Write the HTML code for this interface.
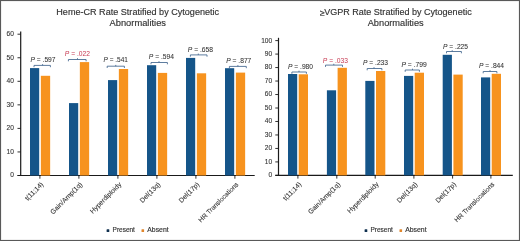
<!DOCTYPE html>
<html><head><meta charset="utf-8"><style>
html,body{margin:0;padding:0;background:#fff;}
body{width:520px;height:241px;overflow:hidden;font-family:"Liberation Sans", sans-serif;}
svg{display:block;will-change:transform;}
</style></head><body>
<svg width="520" height="241" viewBox="0 0 520 241" font-family='"Liberation Sans", sans-serif'>
<rect x="0" y="0" width="520" height="241" fill="#fff"/>
<rect x="1" y="1" width="518" height="239" fill="none" stroke="#d0d0d0" stroke-width="0.6"/>
<rect x="0.5" y="0.5" width="519" height="240" fill="none" stroke="#595959" stroke-width="1"/>
<text x="56.30" y="14.75" font-size="9" fill="#333333" stroke="#333333" stroke-width="0.15" textLength="162.80" lengthAdjust="spacingAndGlyphs">Heme-CR Rate Stratified by Cytogenetic</text>
<text x="109.50" y="25.8" font-size="9" fill="#333333" stroke="#333333" stroke-width="0.15" textLength="56.50" lengthAdjust="spacingAndGlyphs">Abnormalities</text>
<text x="320.0" y="15.9" font-size="8.8" fill="#333333" stroke="#333333" stroke-width="0.15">≥</text>
<text x="324.20" y="14.75" font-size="9" fill="#333333" stroke="#333333" stroke-width="0.15" textLength="147.50" lengthAdjust="spacingAndGlyphs">VGPR Rate Stratified by Cytogenetic</text>
<text x="367.70" y="25.8" font-size="9" fill="#333333" stroke="#333333" stroke-width="0.15" textLength="56.00" lengthAdjust="spacingAndGlyphs">Abnormalities</text>
<line x1="20.7" y1="31.40" x2="20.7" y2="176.10" stroke="#1a1a1a" stroke-width="1.2"/>
<line x1="17.50" y1="175.5" x2="254.7" y2="175.5" stroke="#1a1a1a" stroke-width="1.2"/>
<line x1="17.50" y1="175.50" x2="20.7" y2="175.50" stroke="#1a1a1a" stroke-width="0.9"/>
<text x="13.9" y="177.40" text-anchor="end" font-size="6.6" fill="#333333" stroke="#333333" stroke-width="0.1">0</text>
<line x1="17.50" y1="151.95" x2="20.7" y2="151.95" stroke="#1a1a1a" stroke-width="0.9"/>
<text x="13.9" y="153.85" text-anchor="end" font-size="6.6" fill="#333333" stroke="#333333" stroke-width="0.1">10</text>
<line x1="17.50" y1="128.40" x2="20.7" y2="128.40" stroke="#1a1a1a" stroke-width="0.9"/>
<text x="13.9" y="130.30" text-anchor="end" font-size="6.6" fill="#333333" stroke="#333333" stroke-width="0.1">20</text>
<line x1="17.50" y1="104.85" x2="20.7" y2="104.85" stroke="#1a1a1a" stroke-width="0.9"/>
<text x="13.9" y="106.75" text-anchor="end" font-size="6.6" fill="#333333" stroke="#333333" stroke-width="0.1">30</text>
<line x1="17.50" y1="81.30" x2="20.7" y2="81.30" stroke="#1a1a1a" stroke-width="0.9"/>
<text x="13.9" y="83.20" text-anchor="end" font-size="6.6" fill="#333333" stroke="#333333" stroke-width="0.1">40</text>
<line x1="17.50" y1="57.75" x2="20.7" y2="57.75" stroke="#1a1a1a" stroke-width="0.9"/>
<text x="13.9" y="59.65" text-anchor="end" font-size="6.6" fill="#333333" stroke="#333333" stroke-width="0.1">50</text>
<line x1="17.50" y1="34.20" x2="20.7" y2="34.20" stroke="#1a1a1a" stroke-width="0.9"/>
<text x="13.9" y="36.10" text-anchor="end" font-size="6.6" fill="#333333" stroke="#333333" stroke-width="0.1">60</text>
<rect x="30.00" y="68.10" width="9.2" height="107.40" fill="#155589"/>
<rect x="40.85" y="75.80" width="9.3" height="99.70" fill="#f7931e"/>
<line x1="39.90" y1="175.5" x2="39.90" y2="178.70" stroke="#1a1a1a" stroke-width="0.9"/>
<path d="M34 67.2 L34 65.4 L50.4 65.4 L50.4 67.2 M42.6 65.4 L42.6 64.10000000000001" fill="none" stroke="#41658e" stroke-width="0.85" stroke-linejoin="round"/>
<text x="30.50" y="61.5" font-size="6.3" fill="#333333" stroke="#333333" stroke-width="0.06" textLength="25.00" lengthAdjust="spacingAndGlyphs"><tspan font-style="italic">P</tspan> = .597</text>
<text x="43.90" y="184.80" text-anchor="end" font-size="6.8" fill="#333333" stroke="#333333" stroke-width="0.08" transform="rotate(-45 43.90 184.80)">t(11;14)</text>
<rect x="69.00" y="103.10" width="9.2" height="72.40" fill="#155589"/>
<rect x="79.85" y="62.10" width="9.3" height="113.40" fill="#f7931e"/>
<line x1="78.90" y1="175.5" x2="78.90" y2="178.70" stroke="#1a1a1a" stroke-width="0.9"/>
<path d="M68.4 61.3 L68.4 59.5 L86.1 59.5 L86.1 61.3 M77.5 59.5 L77.5 58.2" fill="none" stroke="#41658e" stroke-width="0.85" stroke-linejoin="round"/>
<text x="64.80" y="56.1" font-size="6.3" fill="#c73a52" stroke="#c73a52" stroke-width="0.0" textLength="25.20" lengthAdjust="spacingAndGlyphs"><tspan font-style="italic">P</tspan> = .022</text>
<text x="82.90" y="184.80" text-anchor="end" font-size="6.8" fill="#333333" stroke="#333333" stroke-width="0.08" transform="rotate(-45 82.90 184.80)">Gain/Amp(1q)</text>
<rect x="108.00" y="80.10" width="9.2" height="95.40" fill="#155589"/>
<rect x="118.85" y="69.00" width="9.3" height="106.50" fill="#f7931e"/>
<line x1="117.90" y1="175.5" x2="117.90" y2="178.70" stroke="#1a1a1a" stroke-width="0.9"/>
<path d="M107.2 68.0 L107.2 66.2 L124.4 66.2 L124.4 68.0 M115.75 66.2 L115.75 64.9" fill="none" stroke="#41658e" stroke-width="0.85" stroke-linejoin="round"/>
<text x="103.60" y="62.0" font-size="6.3" fill="#333333" stroke="#333333" stroke-width="0.06" textLength="24.30" lengthAdjust="spacingAndGlyphs"><tspan font-style="italic">P</tspan> = .541</text>
<text x="121.90" y="184.80" text-anchor="end" font-size="6.8" fill="#333333" stroke="#333333" stroke-width="0.08" transform="rotate(-45 121.90 184.80)">Hyperdiploidy</text>
<rect x="147.00" y="65.20" width="9.2" height="110.30" fill="#155589"/>
<rect x="157.85" y="72.90" width="9.3" height="102.60" fill="#f7931e"/>
<line x1="156.90" y1="175.5" x2="156.90" y2="178.70" stroke="#1a1a1a" stroke-width="0.9"/>
<path d="M151 64.3 L151 62.5 L167.4 62.5 L167.4 64.3 M159 62.5 L159 61.2" fill="none" stroke="#41658e" stroke-width="0.85" stroke-linejoin="round"/>
<text x="148.80" y="59.3" font-size="6.3" fill="#333333" stroke="#333333" stroke-width="0.06" textLength="25.20" lengthAdjust="spacingAndGlyphs"><tspan font-style="italic">P</tspan> = .594</text>
<text x="160.90" y="184.80" text-anchor="end" font-size="6.8" fill="#333333" stroke="#333333" stroke-width="0.08" transform="rotate(-45 160.90 184.80)">Del(13q)</text>
<rect x="186.00" y="57.90" width="9.2" height="117.60" fill="#155589"/>
<rect x="196.85" y="73.30" width="9.3" height="102.20" fill="#f7931e"/>
<line x1="195.90" y1="175.5" x2="195.90" y2="178.70" stroke="#1a1a1a" stroke-width="0.9"/>
<path d="M190.4 56.699999999999996 L190.4 54.9 L207 54.9 L207 56.699999999999996 M198.3 54.9 L198.3 53.6" fill="none" stroke="#41658e" stroke-width="0.85" stroke-linejoin="round"/>
<text x="187.80" y="51.5" font-size="6.3" fill="#333333" stroke="#333333" stroke-width="0.06" textLength="25.20" lengthAdjust="spacingAndGlyphs"><tspan font-style="italic">P</tspan> = .658</text>
<text x="199.90" y="184.80" text-anchor="end" font-size="6.8" fill="#333333" stroke="#333333" stroke-width="0.08" transform="rotate(-45 199.90 184.80)">Del(17p)</text>
<rect x="225.00" y="68.20" width="9.2" height="107.30" fill="#155589"/>
<rect x="235.85" y="72.60" width="9.3" height="102.90" fill="#f7931e"/>
<line x1="234.90" y1="175.5" x2="234.90" y2="178.70" stroke="#1a1a1a" stroke-width="0.9"/>
<path d="M229.4 68.2 L229.4 66.4 L246.3 66.4 L246.3 68.2 M237.9 66.4 L237.9 65.10000000000001" fill="none" stroke="#41658e" stroke-width="0.85" stroke-linejoin="round"/>
<text x="226.30" y="62.8" font-size="6.3" fill="#333333" stroke="#333333" stroke-width="0.06" textLength="25.00" lengthAdjust="spacingAndGlyphs"><tspan font-style="italic">P</tspan> = .877</text>
<text x="238.90" y="184.80" text-anchor="end" font-size="6.55" fill="#333333" stroke="#333333" stroke-width="0.08" transform="rotate(-45 238.90 184.80)">HR Translocations</text>
<line x1="278.5" y1="37.80" x2="278.5" y2="176.00" stroke="#1a1a1a" stroke-width="1.2"/>
<line x1="275.30" y1="175.4" x2="512.8" y2="175.4" stroke="#1a1a1a" stroke-width="1.2"/>
<line x1="275.30" y1="175.40" x2="278.5" y2="175.40" stroke="#1a1a1a" stroke-width="0.9"/>
<text x="272.2" y="177.30" text-anchor="end" font-size="6.6" fill="#333333" stroke="#333333" stroke-width="0.1">0</text>
<line x1="275.30" y1="161.92" x2="278.5" y2="161.92" stroke="#1a1a1a" stroke-width="0.9"/>
<text x="272.2" y="163.82" text-anchor="end" font-size="6.6" fill="#333333" stroke="#333333" stroke-width="0.1">10</text>
<line x1="275.30" y1="148.44" x2="278.5" y2="148.44" stroke="#1a1a1a" stroke-width="0.9"/>
<text x="272.2" y="150.34" text-anchor="end" font-size="6.6" fill="#333333" stroke="#333333" stroke-width="0.1">20</text>
<line x1="275.30" y1="134.96" x2="278.5" y2="134.96" stroke="#1a1a1a" stroke-width="0.9"/>
<text x="272.2" y="136.86" text-anchor="end" font-size="6.6" fill="#333333" stroke="#333333" stroke-width="0.1">30</text>
<line x1="275.30" y1="121.48" x2="278.5" y2="121.48" stroke="#1a1a1a" stroke-width="0.9"/>
<text x="272.2" y="123.38" text-anchor="end" font-size="6.6" fill="#333333" stroke="#333333" stroke-width="0.1">40</text>
<line x1="275.30" y1="108.00" x2="278.5" y2="108.00" stroke="#1a1a1a" stroke-width="0.9"/>
<text x="272.2" y="109.90" text-anchor="end" font-size="6.6" fill="#333333" stroke="#333333" stroke-width="0.1">50</text>
<line x1="275.30" y1="94.52" x2="278.5" y2="94.52" stroke="#1a1a1a" stroke-width="0.9"/>
<text x="272.2" y="96.42" text-anchor="end" font-size="6.6" fill="#333333" stroke="#333333" stroke-width="0.1">60</text>
<line x1="275.30" y1="81.04" x2="278.5" y2="81.04" stroke="#1a1a1a" stroke-width="0.9"/>
<text x="272.2" y="82.94" text-anchor="end" font-size="6.6" fill="#333333" stroke="#333333" stroke-width="0.1">70</text>
<line x1="275.30" y1="67.56" x2="278.5" y2="67.56" stroke="#1a1a1a" stroke-width="0.9"/>
<text x="272.2" y="69.46" text-anchor="end" font-size="6.6" fill="#333333" stroke="#333333" stroke-width="0.1">80</text>
<line x1="275.30" y1="54.08" x2="278.5" y2="54.08" stroke="#1a1a1a" stroke-width="0.9"/>
<text x="272.2" y="55.98" text-anchor="end" font-size="6.6" fill="#333333" stroke="#333333" stroke-width="0.1">90</text>
<line x1="275.30" y1="40.60" x2="278.5" y2="40.60" stroke="#1a1a1a" stroke-width="0.9"/>
<text x="272.2" y="42.50" text-anchor="end" font-size="6.6" fill="#333333" stroke="#333333" stroke-width="0.1">100</text>
<rect x="288.00" y="74.00" width="9.2" height="101.40" fill="#155589"/>
<rect x="298.70" y="74.30" width="9.3" height="101.10" fill="#f7931e"/>
<line x1="297.90" y1="175.4" x2="297.90" y2="178.60" stroke="#1a1a1a" stroke-width="0.9"/>
<path d="M291.9 73.8 L291.9 72 L306.4 72 L306.4 73.8 M299 72 L299 70.7" fill="none" stroke="#41658e" stroke-width="0.85" stroke-linejoin="round"/>
<text x="288.00" y="69.1" font-size="6.3" fill="#333333" stroke="#333333" stroke-width="0.06" textLength="25.00" lengthAdjust="spacingAndGlyphs"><tspan font-style="italic">P</tspan> = .980</text>
<text x="301.90" y="184.70" text-anchor="end" font-size="6.8" fill="#333333" stroke="#333333" stroke-width="0.08" transform="rotate(-45 301.90 184.70)">t(11;14)</text>
<rect x="326.90" y="90.30" width="9.2" height="85.10" fill="#155589"/>
<rect x="337.60" y="67.80" width="9.3" height="107.60" fill="#f7931e"/>
<line x1="336.80" y1="175.4" x2="336.80" y2="178.60" stroke="#1a1a1a" stroke-width="0.9"/>
<path d="M325.5 66.89999999999999 L325.5 65.1 L342.5 65.1 L342.5 66.89999999999999 M333.8 65.1 L333.8 63.8" fill="none" stroke="#41658e" stroke-width="0.85" stroke-linejoin="round"/>
<text x="322.80" y="62.6" font-size="6.3" fill="#c73a52" stroke="#c73a52" stroke-width="0.0" textLength="25.20" lengthAdjust="spacingAndGlyphs"><tspan font-style="italic">P</tspan> = .033</text>
<text x="340.80" y="184.70" text-anchor="end" font-size="6.8" fill="#333333" stroke="#333333" stroke-width="0.08" transform="rotate(-45 340.80 184.70)">Gain/Amp(1q)</text>
<rect x="365.30" y="80.90" width="9.2" height="94.50" fill="#155589"/>
<rect x="376.00" y="71.00" width="9.3" height="104.40" fill="#f7931e"/>
<line x1="375.20" y1="175.4" x2="375.20" y2="178.60" stroke="#1a1a1a" stroke-width="0.9"/>
<path d="M367.2 70.3 L367.2 68.5 L381.9 68.5 L381.9 70.3 M374 68.5 L374 67.2" fill="none" stroke="#41658e" stroke-width="0.85" stroke-linejoin="round"/>
<text x="363.00" y="64.8" font-size="6.3" fill="#333333" stroke="#333333" stroke-width="0.06" textLength="25.00" lengthAdjust="spacingAndGlyphs"><tspan font-style="italic">P</tspan> = .233</text>
<text x="379.20" y="184.70" text-anchor="end" font-size="6.8" fill="#333333" stroke="#333333" stroke-width="0.08" transform="rotate(-45 379.20 184.70)">Hyperdiploidy</text>
<rect x="404.00" y="75.90" width="9.2" height="99.50" fill="#155589"/>
<rect x="414.70" y="72.70" width="9.3" height="102.70" fill="#f7931e"/>
<line x1="413.90" y1="175.4" x2="413.90" y2="178.60" stroke="#1a1a1a" stroke-width="0.9"/>
<path d="M405.2 71.8 L405.2 70 L419.4 70 L419.4 71.8 M412.5 70 L412.5 68.7" fill="none" stroke="#41658e" stroke-width="0.85" stroke-linejoin="round"/>
<text x="401.50" y="67.1" font-size="6.3" fill="#333333" stroke="#333333" stroke-width="0.06" textLength="25.30" lengthAdjust="spacingAndGlyphs"><tspan font-style="italic">P</tspan> = .799</text>
<text x="417.90" y="184.70" text-anchor="end" font-size="6.8" fill="#333333" stroke="#333333" stroke-width="0.08" transform="rotate(-45 417.90 184.70)">Del(13q)</text>
<rect x="442.70" y="54.80" width="9.2" height="120.60" fill="#155589"/>
<rect x="453.40" y="74.60" width="9.3" height="100.80" fill="#f7931e"/>
<line x1="452.60" y1="175.4" x2="452.60" y2="178.60" stroke="#1a1a1a" stroke-width="0.9"/>
<path d="M446.5 53.3 L446.5 51.5 L461.4 51.5 L461.4 53.3 M452.2 51.5 L452.2 50.2" fill="none" stroke="#41658e" stroke-width="0.85" stroke-linejoin="round"/>
<text x="443.00" y="48.5" font-size="6.3" fill="#333333" stroke="#333333" stroke-width="0.06" textLength="25.00" lengthAdjust="spacingAndGlyphs"><tspan font-style="italic">P</tspan> = .225</text>
<text x="456.60" y="184.70" text-anchor="end" font-size="6.8" fill="#333333" stroke="#333333" stroke-width="0.08" transform="rotate(-45 456.60 184.70)">Del(17p)</text>
<rect x="481.00" y="77.40" width="9.2" height="98.00" fill="#155589"/>
<rect x="491.70" y="73.80" width="9.3" height="101.60" fill="#f7931e"/>
<line x1="490.90" y1="175.4" x2="490.90" y2="178.60" stroke="#1a1a1a" stroke-width="0.9"/>
<path d="M483.2 73.3 L483.2 71.5 L496.9 71.5 L496.9 73.3 M490 71.5 L490 70.2" fill="none" stroke="#41658e" stroke-width="0.85" stroke-linejoin="round"/>
<text x="479.00" y="67.8" font-size="6.3" fill="#333333" stroke="#333333" stroke-width="0.06" textLength="25.00" lengthAdjust="spacingAndGlyphs"><tspan font-style="italic">P</tspan> = .844</text>
<text x="494.90" y="184.70" text-anchor="end" font-size="6.55" fill="#333333" stroke="#333333" stroke-width="0.08" transform="rotate(-45 494.90 184.70)">HR Translocations</text>
<rect x="106.60000000000001" y="229.2" width="2.7" height="2.7" rx="0.5" fill="#10304f"/>
<text x="112.60" y="231.75" font-size="6.3" fill="#333333" stroke="#333333" stroke-width="0.15" textLength="22.30" lengthAdjust="spacingAndGlyphs">Present</text>
<rect x="141.5" y="229.2" width="2.6" height="2.7" rx="0.5" fill="#e0862c"/>
<text x="147.30" y="231.75" font-size="6.3" fill="#333333" stroke="#333333" stroke-width="0.15" textLength="21.30" lengthAdjust="spacingAndGlyphs">Absent</text>
<rect x="364.59999999999997" y="229.2" width="2.7" height="2.7" rx="0.5" fill="#10304f"/>
<text x="370.50" y="231.75" font-size="6.3" fill="#333333" stroke="#333333" stroke-width="0.15" textLength="22.40" lengthAdjust="spacingAndGlyphs">Present</text>
<rect x="399.5" y="229.2" width="2.6" height="2.7" rx="0.5" fill="#e0862c"/>
<text x="405.20" y="231.75" font-size="6.3" fill="#333333" stroke="#333333" stroke-width="0.15" textLength="21.40" lengthAdjust="spacingAndGlyphs">Absent</text>
</svg>
</body></html>
